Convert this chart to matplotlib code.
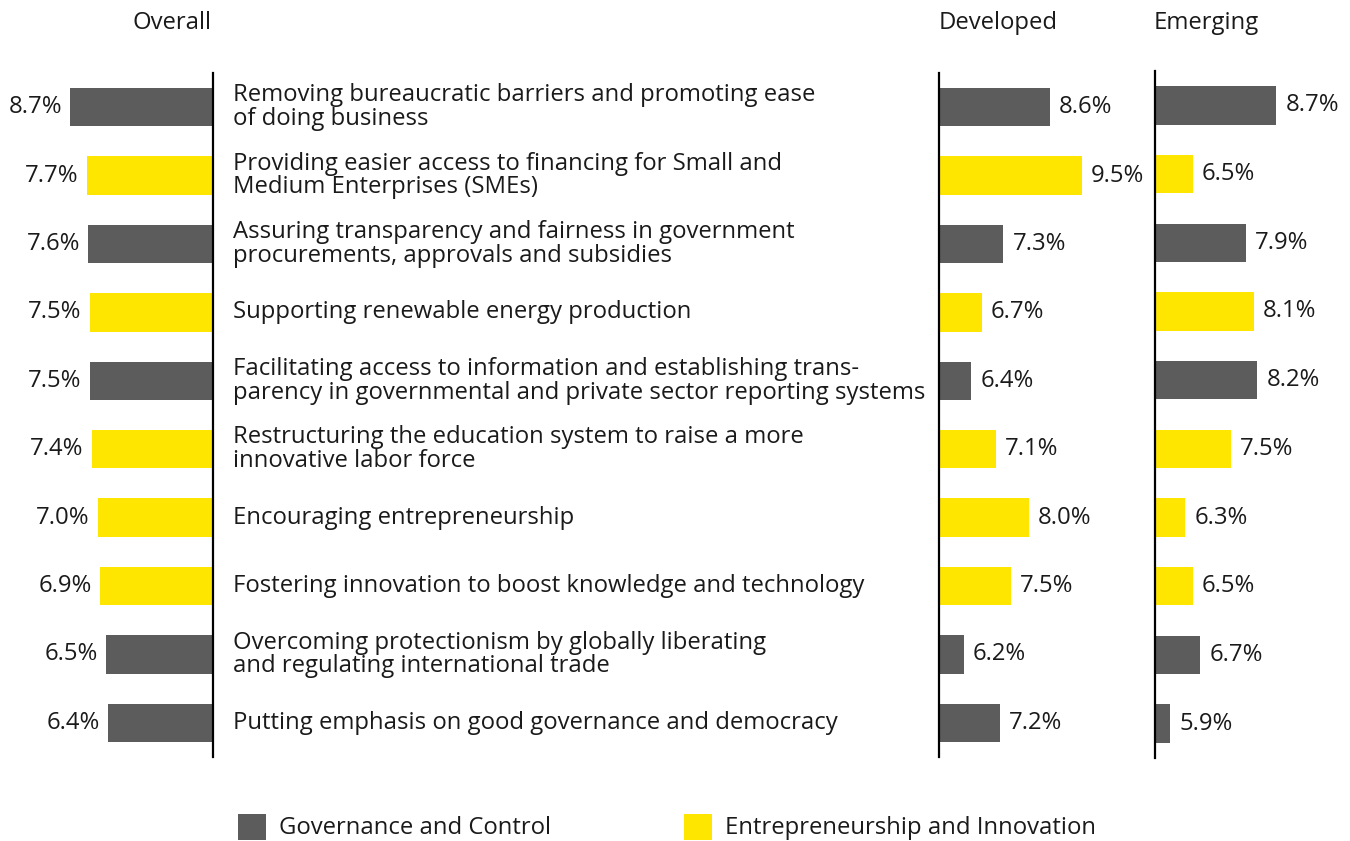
import matplotlib
matplotlib.use("Agg")
import matplotlib.pyplot as plt
from matplotlib.patches import Rectangle
from matplotlib.transforms import blended_transform_factory

plt.rcParams['font.family'] = ['Open Sans', 'DejaVu Sans']

categories = [
    "Removing bureaucratic barriers and promoting ease\nof doing business",
    "Providing easier access to financing for Small and\nMedium Enterprises (SMEs)",
    "Assuring transparency and fairness in government\nprocurements, approvals and subsidies",
    "Supporting renewable energy production",
    "Facilitating access to information and establishing trans-\nparency in governmental and private sector reporting systems",
    "Restructuring the education system to raise a more\ninnovative labor force",
    "Encouraging entrepreneurship",
    "Fostering innovation to boost knowledge and technology",
    "Overcoming protectionism by globally liberating\nand regulating international trade",
    "Putting emphasis on good governance and democracy",
]
groups = ["gov", "ent", "gov", "ent", "gov", "ent", "ent", "ent", "gov", "gov"]
overall = [8.7, 7.7, 7.6, 7.5, 7.5, 7.4, 7.0, 6.9, 6.5, 6.4]
developed = [8.6, 9.5, 7.3, 6.7, 6.4, 7.1, 8.0, 7.5, 6.2, 7.2]
emerging = [8.7, 6.5, 7.9, 8.1, 8.2, 7.5, 6.3, 6.5, 6.7, 5.9]
legend_labels = {"gov": "Governance and Control", "ent": "Entrepreneurship and Innovation"}

GRAY = "#5c5c5c"
YELLOW = "#ffe600"
TEXT = "#1a1a1a"
colors = [GRAY if g == "gov" else YELLOW for g in groups]

W, H = 1350, 841
fig = plt.figure(figsize=(W / 100, H / 100), dpi=100)


def px_axes(x0, y_top, width, y_bot):
    return fig.add_axes([x0 / W, 1 - y_bot / H, width / W, (y_bot - y_top) / H])


FS = 17.2
ypos = list(range(len(categories)))
BAR_H = 0.56
BASE = 5.5

# Overall panel: bars grow leftwards from zero
ax_o = px_axes(0, 73, 213, 757)
ax_o.barh(ypos, overall, height=BAR_H, color=colors)
ax_o.set_xlim(213 / 16.4, 0)
ax_o.set_ylim(len(categories) - 0.5, -0.5)

# Developed / Emerging panels start at 5.5%
ax_d = px_axes(939, 73, 200, 757)
ax_d.barh(ypos, [v - BASE for v in developed], left=BASE, height=BAR_H, color=colors)
ax_d.set_xlim(BASE, BASE + 200 / 35.8)
ax_d.set_ylim(len(categories) - 0.5, -0.5)

ax_e = px_axes(1155, 71, 190, 758)
ax_e.barh(ypos, [v - BASE for v in emerging], left=BASE, height=BAR_H, color=colors)
ax_e.set_xlim(BASE, BASE + 190 / 37.9)
ax_e.set_ylim(len(categories) - 0.5, -0.5)

for ax, side in [(ax_o, 'right'), (ax_d, 'left'), (ax_e, 'left')]:
    for s in ['top', 'bottom', 'left', 'right']:
        ax.spines[s].set_visible(s == side)
    ax.spines[side].set_linewidth(1.6)
    ax.spines[side].set_color('black')
    ax.set_xticks([])
    ax.set_yticks([])
    ax.patch.set_alpha(0)

# value labels
for i, v in enumerate(overall):
    ax_o.annotate(f"{v:.1f}%", (v, i), xytext=(-6, 0), textcoords='offset points',
                  ha='right', va='center', fontsize=FS, color=TEXT)
for i, v in enumerate(developed):
    ax_d.annotate(f"{v:.1f}%", (v, i), xytext=(6.5, 0), textcoords='offset points',
                  ha='left', va='center', fontsize=FS, color=TEXT)
for i, v in enumerate(emerging):
    ax_e.annotate(f"{v:.1f}%", (v, i), xytext=(6.5, 0), textcoords='offset points',
                  ha='left', va='center', fontsize=FS, color=TEXT)

# category labels
tr = blended_transform_factory(fig.transFigure, ax_o.transData)
for i, c in enumerate(categories):
    fig.text(233 / W, i, c, transform=tr, ha='left', va='center',
             fontsize=FS, color=TEXT, linespacing=0.98)

# panel headers
fig.text(211 / W, 1 - 23 / H, "Overall", ha='right', va='center', fontsize=FS, color=TEXT)
fig.text(939 / W, 1 - 23 / H, "Developed", ha='left', va='center', fontsize=FS, color=TEXT)
fig.text(1154 / W, 1 - 23 / H, "Emerging", ha='left', va='center', fontsize=FS, color=TEXT)

# legend
for x_sq, key, col in [(238, "gov", GRAY), (684, "ent", YELLOW)]:
    fig.patches.append(Rectangle((x_sq / W, 1 - 840 / H), 28 / W, 26 / H,
                                 transform=fig.transFigure,
                                 facecolor=col, edgecolor='none'))
    fig.text((x_sq + 41) / W, 1 - 828 / H, legend_labels[key], ha='left', va='center',
             fontsize=FS, color=TEXT)

fig.savefig("out.png", dpi=100)
